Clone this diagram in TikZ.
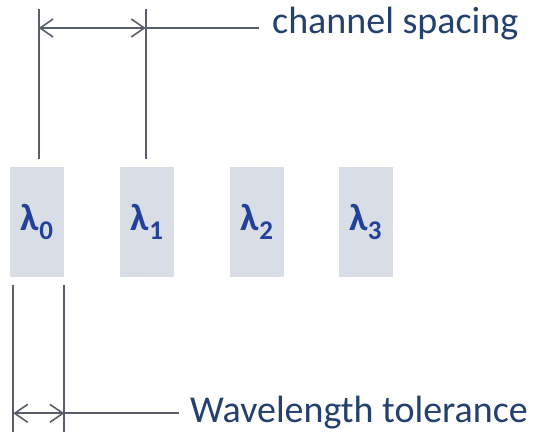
\documentclass[tikz,border=0pt]{standalone}
\usepackage{fontspec}
\setmainfont{Carlito}
\usetikzlibrary{arrows.meta}
\definecolor{boxfill}{HTML}{D9DDE5}
\definecolor{lamblue}{HTML}{22429A}
\definecolor{labelblue}{HTML}{23406E}
\definecolor{linegray}{HTML}{585F6B}
\tikzset{
  chan/.style={fill=boxfill, draw=none, minimum width=54pt, minimum height=110pt, inner sep=0pt,
    text=lamblue, font=\fontsize{38}{42}\selectfont\bfseries},
  dimline/.style={draw=linegray, line width=1.8pt},
  dimarrow/.style={dimline, {Straight Barb[length=13pt,width=18pt,line width=1.6pt]}-{Straight Barb[length=13pt,width=18pt,line width=1.6pt]}},
  dimlabel/.style={text=labelblue, font=\fontsize{38}{44}\selectfont, inner sep=0pt, anchor=base west}
}
\newcommand{\lamsub}[1]{λ\raisebox{-9pt}{\fontsize{27}{29}\selectfont\bfseries #1}}
\begin{document}
\begin{tikzpicture}[x=1pt,y=-1pt]
\useasboundingbox (0,0) rectangle (535,432);
% channel boxes
\node[chan] (b0) at (37,222) {\lamsub{0}};
\node[chan] (b1) at (147,222) {\lamsub{1}};
\node[chan] (b2) at (257,222) {\lamsub{2}};
\node[chan] (b3) at (365.5,222) {\lamsub{3}};
% top dimension
\coordinate (ta0) at (38.7,159);
\coordinate (tb0) at (38.7,8.5);
\coordinate (ta1) at (145.7,159);
\coordinate (tb1) at (145.7,8.5);
\coordinate (tl) at (38.7,28);
\coordinate (tr) at (145.7,28);
\coordinate (te) at (259,28);
\node[dimlabel] (cs) at (272,33) {channel spacing};
\draw[dimline] (ta0) -- (tb0);
\draw[dimline] (ta1) -- (tb1);
\draw[dimarrow] (tl) -- (tr);
\draw[dimline] (tr) -- (te);
% bottom dimension
\coordinate (ba0) at (13.3,285);
\coordinate (bb0) at (13.3,432);
\coordinate (ba1) at (64.3,285);
\coordinate (bb1) at (64.3,432);
\coordinate (bl) at (13.3,413.3);
\coordinate (br) at (64.3,413.3);
\coordinate (be) at (179,413.3);
\node[dimlabel] (wt) at (190,422.7) {Wavelength tolerance};
\draw[dimline] (ba0) -- (bb0);
\draw[dimline] (ba1) -- (bb1);
\draw[dimarrow] (bl) -- (br);
\draw[dimline] (br) -- (be);
\end{tikzpicture}
\end{document}
